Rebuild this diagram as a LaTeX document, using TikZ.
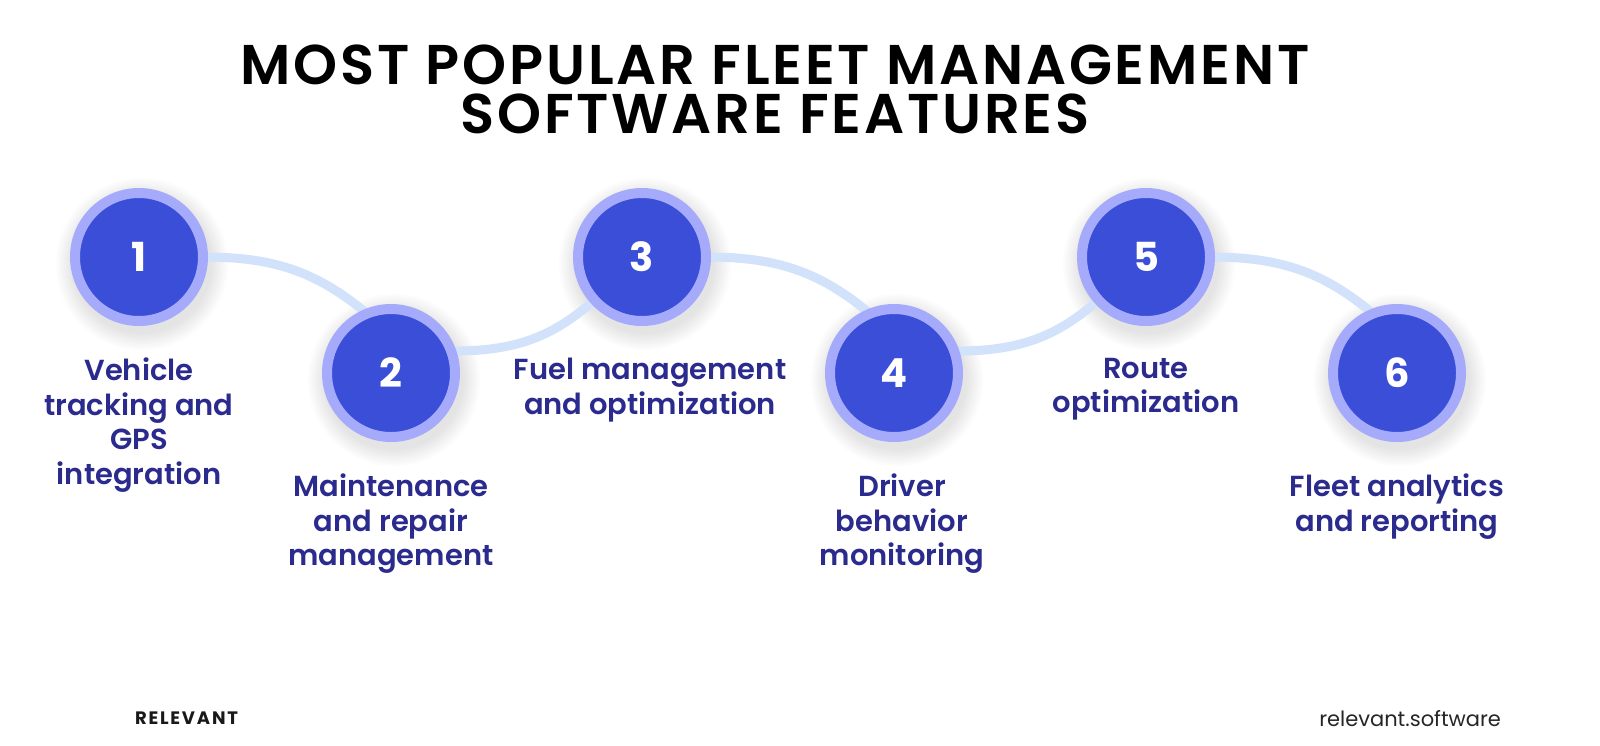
\documentclass[tikz,border=0pt]{standalone}
\usepackage{fontspec}
\setmainfont{Poppins}
\newfontfamily\labelfont{Poppins SemiBold}
\newfontfamily\titlefont{Poppins SemiBold}[LetterSpace=5]
\newfontfamily\brandfont{Poppins Bold}[LetterSpace=10]
\usetikzlibrary{positioning,backgrounds}

\definecolor{ringblue}{HTML}{A5ABFA}
\definecolor{discblue}{HTML}{3A4ED8}
\definecolor{wavecol}{HTML}{D2E2FB}
\definecolor{labelcol}{HTML}{2B2B8E}

\begin{document}
\begin{tikzpicture}[x=1pt,y=1pt,inner sep=0pt,outer sep=0pt,
featdisc/.style={circle,draw=ringblue,line width=10pt,fill=discblue,minimum size=128pt,text=white,font=\bfseries\fontsize{40}{40}\selectfont},
featlabel/.style={align=center,text=labelcol,font=\labelfont\fontsize{29}{34.6}\selectfont},
titleline/.style={font=\titlefont\fontsize{56}{56}\selectfont},
wave/.style={draw=wavecol,line width=9pt}]

\useasboundingbox (0,0) rectangle (1600,-745);

\node[titleline] (title1) at (775,-65) {MOST POPULAR FLEET MANAGEMENT};
\node[titleline] (title2) at (775,-114) {SOFTWARE FEATURES};

\node[featdisc] (n1) at (139,-257) {1};
\node[featdisc] (n2) at (391,-373) {2};
\node[featdisc] (n3) at (642,-257) {3};
\node[featdisc] (n4) at (894,-373) {4};
\node[featdisc] (n5) at (1146,-257) {5};
\node[featdisc] (n6) at (1397,-373) {6};

\node[featlabel,below=37pt of n1] (t1) {Vehicle\\tracking and\\GPS\\integration};
\node[featlabel,below=37pt of n2] (t2) {Maintenance\\and repair\\management};
\node[featlabel,below=37pt of n3,xshift=8pt] (t3) {Fuel management\\and optimization};
\node[featlabel,below=37pt of n4,xshift=8pt] (t4) {Driver\\behavior\\monitoring};
\node[featlabel,below=37pt of n5] (t5) {Route\\optimization};
\node[featlabel,below=37pt of n6] (t6) {Fleet analytics\\and reporting};

\node[font=\brandfont\fontsize{18}{18}\selectfont,text=black!90,anchor=west] (brand) at (135,-718) {RELEVANT};
\node[font=\fontsize{21}{21}\selectfont,text=black!85,anchor=east] (site) at (1501,-719) {relevant.software};

\begin{scope}[on background layer]
\fill[white] (0,0) rectangle (1600,-745);
% soft shadow under the discs
\foreach \i in {1,...,6}
  \foreach \r in {70,72,...,86}
    \fill[black,opacity=.012] ([xshift=3pt,yshift=-7pt]n\i.center) circle (\r pt);
\draw[wave] (n1.east) to[out=0,in=140] (n2.112);
\draw[wave] (n2.20) to[out=0,in=-138] (n3);
\draw[wave] (n3.east) to[out=0,in=140] (n4.112);
\draw[wave] (n4.20) to[out=0,in=-138] (n5);
\draw[wave] (n5.east) to[out=0,in=140] (n6.112);
\end{scope}
\end{tikzpicture}
\end{document}
